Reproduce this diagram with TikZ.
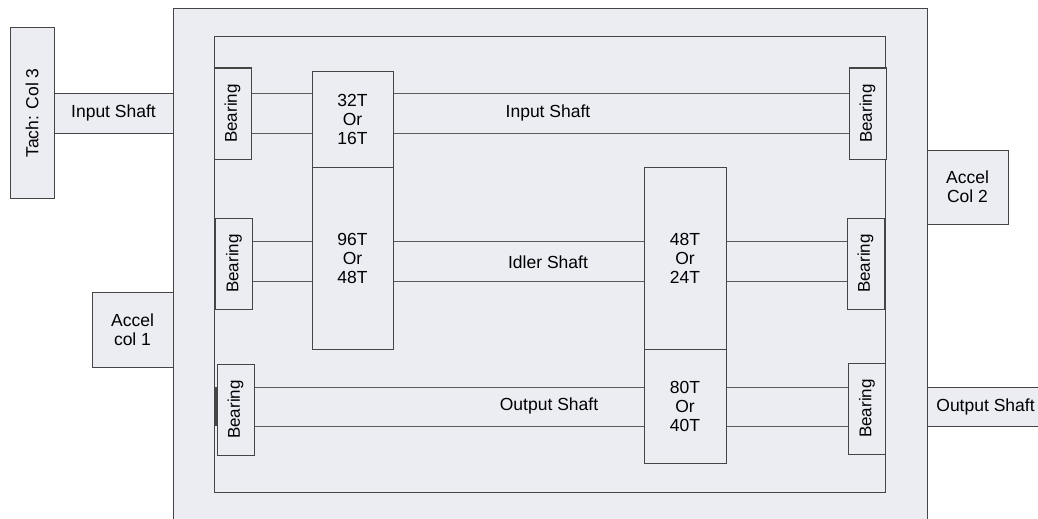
\documentclass[tikz,border=0pt]{standalone}
\usepackage{fontspec}
\setmainfont{Liberation Sans}
\definecolor{boxfill}{HTML}{ECEDF3}
\definecolor{edge}{HTML}{454545}
\definecolor{shaft}{HTML}{5A5A5A}
\begin{document}
\begin{tikzpicture}[x=1pt,y=-1pt,
  blk/.style={draw=edge,fill=boxfill,line width=1pt,inner sep=0pt,align=center,
    font=\fontsize{17.5}{19}\selectfont},
  brg/.style={blk,minimum width=37pt,minimum height=91pt,
    font=\fontsize{17}{18}\selectfont},
  gear/.style={blk,minimum width=81pt},
  shaftline/.style={draw=shaft,line width=1pt},
  lbl/.style={font=\fontsize{17.5}{19}\selectfont,inner sep=0pt}]
\useasboundingbox (0,0) rectangle (1038,519);
\clip (0,0) rectangle (1038,519);
\fill[white] (0,0) rectangle (1038,519);
% housing
\node[blk,minimum width=754pt,minimum height=530pt,anchor=north west] (outer) at (173,8) {};
\node[draw=edge,line width=1pt,minimum width=671pt,minimum height=456pt,inner sep=0pt,anchor=north west] (inner) at (214,36) {};
% external blocks
\node[blk,minimum width=44pt,minimum height=170pt] (tach) at (32,113) {\rotatebox{90}{Tach: Col 3}};
\node[blk,minimum width=119pt,minimum height=40pt] (inshaft) at (113.5,113) {Input Shaft};
\node[blk,minimum width=81pt,minimum height=75pt] (acc1) at (132.5,329.5) {Accel\\col 1};
\node[blk,minimum width=81pt,minimum height=74pt] (acc2) at (967.5,187) {Accel\\Col 2};
\node[blk,minimum width=116pt,minimum height=39pt,anchor=west] (outshaft) at (927,406.5) {Output Shaft};
% bearings
\node[brg] (b1) at (232.5,113.5) {\rotatebox{90}{Bearing}};
\node[brg] (b2) at (867.5,113.5) {\rotatebox{90}{Bearing}};
\node[brg] (b3) at (234,263.5) {\rotatebox{90}{Bearing}};
\node[brg] (b4) at (865.5,263.5) {\rotatebox{90}{Bearing}};
\node[brg] (b5) at (235.5,409.5) {\rotatebox{90}{Bearing}};
\node[brg] (b6) at (867,408.5) {\rotatebox{90}{Bearing}};
% gears
\node[gear,minimum height=96pt] (g1) at (352.5,119) {32T\\Or\\16T};
\node[gear,minimum height=182pt] (g2) at (352.5,258) {96T\\Or\\48T};
\node[gear,minimum height=182pt,minimum width=82pt] (g3) at (685,258) {48T\\Or\\24T};
\node[gear,minimum height=114pt,minimum width=82pt] (g4) at (685,406) {80T\\Or\\40T};
% shaft levels
\coordinate (i1) at (0,93);
\coordinate (i2) at (0,133);
\coordinate (d1) at (0,241);
\coordinate (d2) at (0,281);
\coordinate (o1) at (0,387);
\coordinate (o2) at (0,426);
% input shaft
\draw[shaftline] (b1.east |- i1) -- (g1.west |- i1);
\draw[shaftline] (b1.east |- i2) -- (g1.west |- i2);
\draw[shaftline] (g1.east |- i1) -- (b2.west |- i1);
\draw[shaftline] (g1.east |- i2) -- (b2.west |- i2);
% idler shaft
\draw[shaftline] (b3.east |- d1) -- (g2.west |- d1);
\draw[shaftline] (b3.east |- d2) -- (g2.west |- d2);
\draw[shaftline] (g2.east |- d1) -- (g3.west |- d1);
\draw[shaftline] (g2.east |- d2) -- (g3.west |- d2);
\draw[shaftline] (g3.east |- d1) -- (b4.west |- d1);
\draw[shaftline] (g3.east |- d2) -- (b4.west |- d2);
% output shaft
\draw[shaftline] (b5.east |- o1) -- (g4.west |- o1);
\draw[shaftline] (b5.east |- o2) -- (g4.west |- o2);
\draw[shaftline] (g4.east |- o1) -- (b6.west |- o1);
\draw[shaftline] (g4.east |- o2) -- (b6.west |- o2);
% dark bearing edges
\draw[edge,line width=1.6pt] (b3.west |- d1) -- (b3.west |- d2);
\draw[edge,line width=2.2pt] (b5.west |- o1) -- (b5.west |- o2);
% shaft labels
\node[lbl] (lin) at (548,113) {Input Shaft};
\node[lbl] (lid) at (548,262) {Idler Shaft};
\node[lbl] (lout) at (549,406) {Output Shaft};
\end{tikzpicture}
\end{document}
